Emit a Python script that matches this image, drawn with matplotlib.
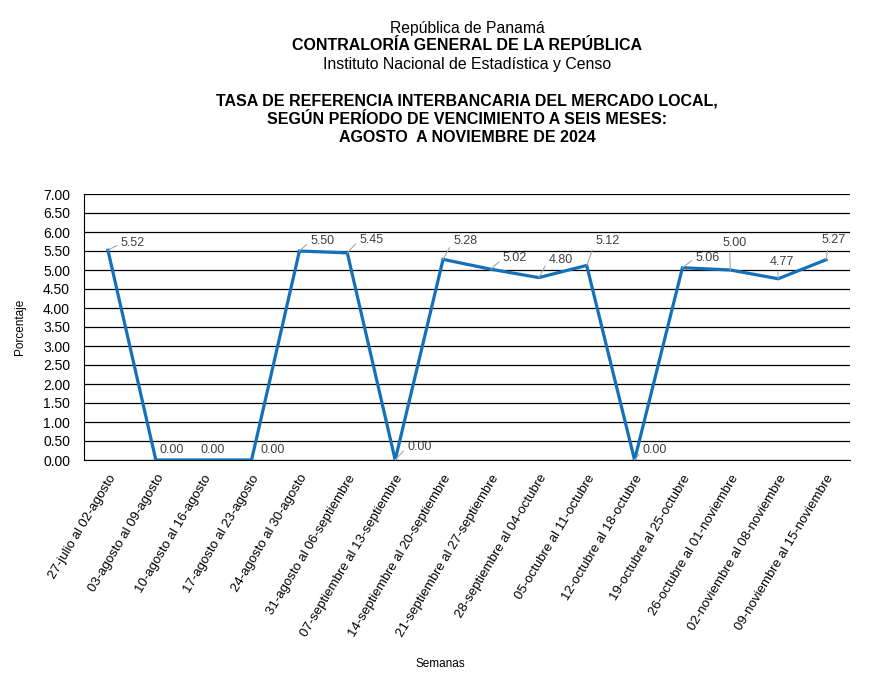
import matplotlib
matplotlib.use("Agg")
import matplotlib.pyplot as plt
import numpy as np

plt.rcParams['font.family'] = ['Liberation Sans', 'DejaVu Sans']

# semanas y tasas (porcentaje)
semanas = ["27-julio al 02-agosto", "03-agosto al 09-agosto", "10-agosto al 16-agosto",
           "17-agosto al 23-agosto", "24-agosto al 30-agosto", "31-agosto al 06-septiembre",
           "07-septiembre al 13-septiembre", "14-septiembre al 20-septiembre",
           "21-septiembre al 27-septiembre", "28-septiembre al 04-octubre",
           "05-octubre al 11-octubre", "12-octubre al 18-octubre", "19-octubre al 25-octubre",
           "26-octubre al 01-noviembre", "02-noviembre al 08-noviembre",
           "09-noviembre al 15-noviembre"]
tasa = [5.52, 0.00, 0.00, 0.00, 5.50, 5.45, 0.00, 5.28, 5.02, 4.80, 5.12, 0.00,
        5.06, 5.00, 4.77, 5.27]
yticks = np.arange(0, 7.01, 0.5)

# desplazamiento de las etiquetas (pixeles) y si llevan linea guia
offsets = [(13, 7), (4, 10), (-3, 10), (9, 10), (11, 10), (12, 13), (12, 13), (10, 18),
           (12, 11), (10, 18), (9, 24), (8, 10), (13, 10), (-8, 27), (-8, 17), (-5, 20)]
leader = [True, False, False, False, True, True, True, True,
          True, True, True, True, True, True, True, True]

fig = plt.figure(figsize=(8.78, 6.79), dpi=100)
ax = fig.add_axes([84/878, 1-460/679, 766/878, 266/679])

x = np.arange(len(semanas))
ax.plot(x, tasa, color='#1470B8', lw=2.3, solid_joinstyle='miter', zorder=3)

for i, v in enumerate(tasa):
    dx, dy = offsets[i]
    above = dx < 0
    ax.annotate(f"{v:.2f}", (i, v), xytext=(dx, dy), textcoords='offset pixels',
                ha='left', va='center', fontsize=9, color='#404040', zorder=4,
                arrowprops=dict(arrowstyle='-', color='#a6a6a6', lw=0.8,
                                shrinkA=1, shrinkB=0,
                                relpos=(0.3, 0) if above else (0, 0.5)) if leader[i] else None)

ax.set_xlim(-0.5, len(semanas) - 0.5)
ax.set_ylim(0, 7)
ax.set_yticks(yticks)
ax.set_yticklabels([f"{t:.2f}" for t in yticks], fontsize=10)
ax.yaxis.grid(True, color='black', lw=0.9)
ax.set_axisbelow(True)
ax.set_xticks(x)
ax.set_xticklabels(semanas, rotation=59, ha='right', rotation_mode='anchor', fontsize=9.5)
ax.tick_params(axis='both', length=0, pad=10)
ax.tick_params(axis='x', pad=9)
for s in ['top', 'right']:
    ax.spines[s].set_visible(False)
ax.spines['left'].set_color('black')
ax.spines['bottom'].set_color('black')

fig.text(20/878, 1-327/679, "Porcentaje", rotation=90, ha='center', va='center', fontsize=8.5)
fig.text(440/878, 1-664/679, "Semanas", ha='center', va='center', fontsize=8.5)

cx = 467/878
fig.text(cx, 1-28/679, "República de Panamá", ha='center', va='center', fontsize=11.3)
fig.text(cx, 1-45/679, "CONTRALORÍA GENERAL DE LA REPÚBLICA", ha='center', va='center',
         fontsize=11.5, fontweight='bold')
fig.text(cx, 1-64/679, "Instituto Nacional de Estadística y Censo", ha='center', va='center',
         fontsize=11.4)
fig.text(cx, 1-101/679, "TASA DE REFERENCIA INTERBANCARIA DEL MERCADO LOCAL,", ha='center',
         va='center', fontsize=11.5, fontweight='bold')
fig.text(cx, 1-119/679, "SEGÚN PERÍODO DE VENCIMIENTO A SEIS MESES:", ha='center',
         va='center', fontsize=11.5, fontweight='bold')
fig.text(cx, 1-138/679, "AGOSTO  A NOVIEMBRE DE 2024", ha='center', va='center',
         fontsize=11.5, fontweight='bold')

fig.savefig("out.png", dpi=100)
